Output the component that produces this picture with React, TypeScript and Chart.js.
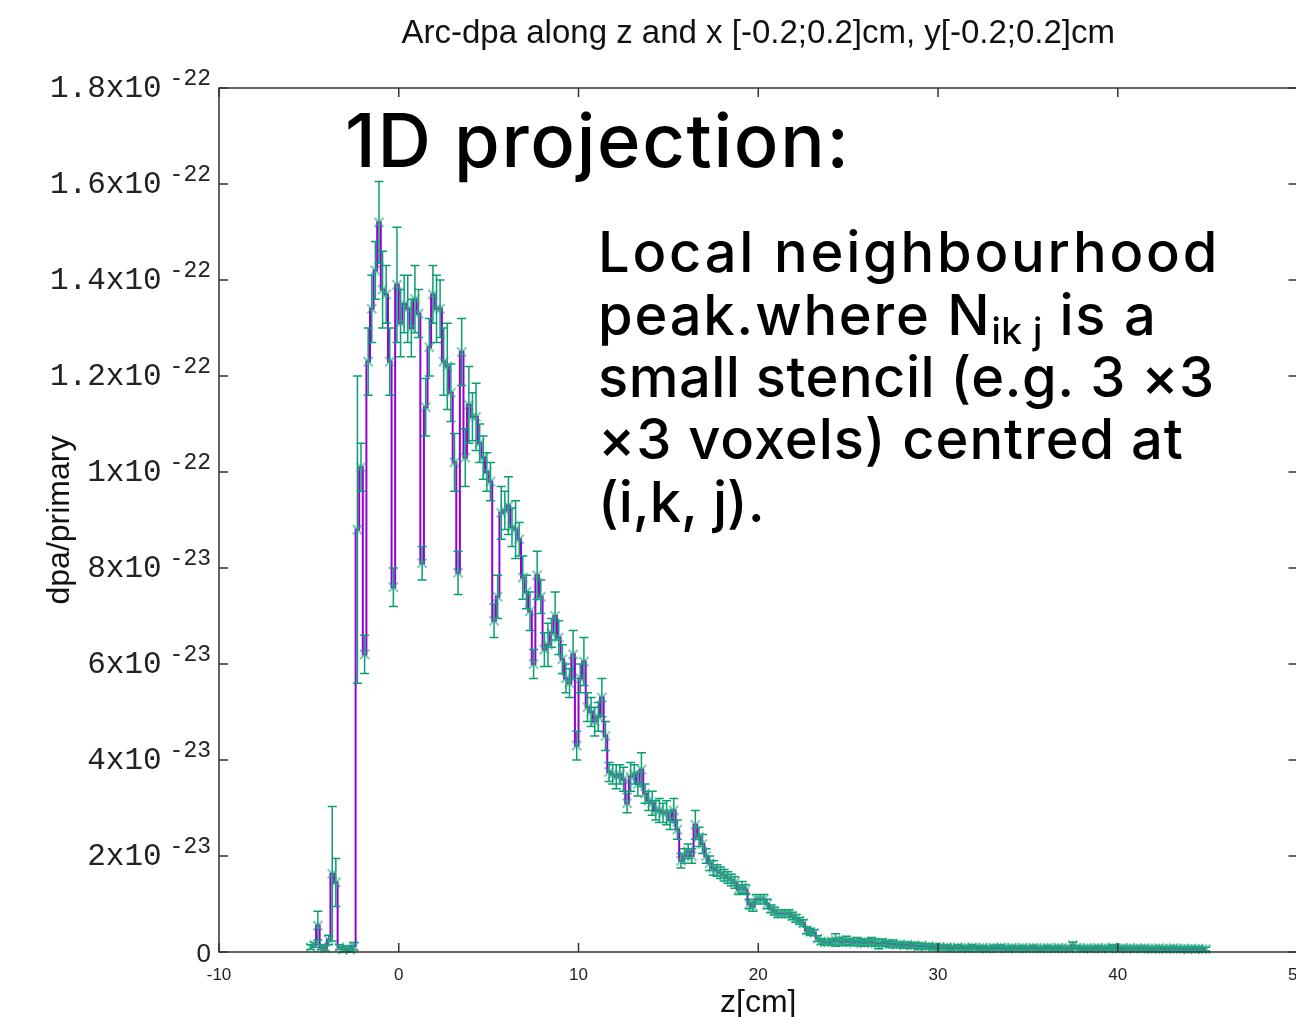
import { useEffect, useRef } from 'react';
import { Chart, registerables } from 'chart.js';

Chart.register(...registerables);

// ---- text ----
const TITLE = 'Arc-dpa along z and x [-0.2;0.2]cm, y[-0.2;0.2]cm';
const X_TITLE = 'z[cm]';
const Y_TITLE = 'dpa/primary';
const HEADING = '1D projection:';
// each line is a list of runs; "sub" runs are set as subscripts
const NOTE_LINES = [
  [{ t: 'Local neighbourhood' }],
  [{ t: 'peak.where N' }, { t: 'ik j', sub: true }, { t: ' is a' }],
  [{ t: 'small stencil (e.g. 3 \u00d73' }],
  [{ t: '\u00d73 voxels) centred at' }],
  [{ t: '(i,k, j).' }],
];
// tracking (px) applied to each note line
const NOTE_TRACKING = [2.8, 1.8, 0.5, 0.95, 0];

// ---- axes ----
const X_MIN = -10;
const X_MAX = 50;
const X_STEP = 10;
const Y_MIN = 0;
const Y_MAX = 18; // in units of 1e-23 dpa/primary
const Y_STEP = 2;
const Y_UNIT_EXP = -23;

// ---- histogram: 0.2 cm bins starting at z = -5 cm ----
const BIN_START = -5.0;
const BIN_WIDTH = 0.2;

// dpa per primary, units of 1e-23
const DPA = [
  0.10, 0.15, 0.55, 0.10, 0.08, 0.25, 1.63, 1.45, 0.10, 0.05, 0.08, 0.05, 0.12,
  8.8, 10.1, 6.2, 12.3, 13.4, 14.2, 15.2, 13.8, 13.7, 12.3, 7.6, 13.9,
  13.1, 13.5, 13.4, 13.0, 13.6, 13.3, 8.1, 11.35, 12.6, 13.7, 13.4, 13.4, 12.3, 12.2, 11.65, 10.2,
  7.9, 12.5, 10.3, 11.4, 11.15, 11.15, 10.6, 10.3, 10.0, 9.8,
  6.9, 7.4, 9.15, 9.2, 9.3, 8.85, 8.8, 8.6, 7.8, 7.5, 7.1, 6.0, 7.85, 7.4, 6.3, 6.4, 6.65,
  7.0, 6.55, 6.1, 5.7, 5.6, 6.2, 4.3, 5.7, 6.05, 5.1, 5.0, 4.8, 4.9, 5.3, 4.5, 3.75,
  3.7, 3.65, 3.7, 3.6, 3.1, 3.65, 3.7, 3.5, 3.8, 3.3,
  3.15, 3.1, 2.95, 2.95, 2.9, 2.9, 2.75, 2.95, 2.55, 1.9,
  2.0, 2.1, 2.0, 2.65, 2.4, 2.25, 2.0, 1.85, 1.75, 1.7,
  1.65, 1.6, 1.55, 1.5, 1.45, 1.3, 1.35, 1.3, 1.0, 0.95,
  1.1, 1.1, 1.1, 1.0, 0.9, 0.85, 0.8, 0.8, 0.8, 0.8,
  0.75, 0.7, 0.65, 0.6, 0.45, 0.42, 0.4, 0.28, 0.22, 0.2,
  0.2, 0.22,
  0.25, 0.22, 0.2, 0.24, 0.21, 0.19, 0.22, 0.2, 0.18, 0.2,
  0.22, 0.19, 0.17, 0.2, 0.18, 0.16, 0.17, 0.15, 0.16, 0.14,
  0.15, 0.13, 0.14, 0.12, 0.13, 0.11, 0.12, 0.1, 0.11, 0.1,
  0.09, 0.1, 0.08, 0.09, 0.1, 0.08, 0.09, 0.08, 0.1, 0.09,
  0.08, 0.09, 0.07, 0.08, 0.09, 0.08, 0.1, 0.08, 0.07, 0.09,
  0.08, 0.08, 0.09, 0.07, 0.08, 0.09, 0.08, 0.07, 0.08, 0.09,
  0.08, 0.07, 0.09, 0.08, 0.08, 0.07, 0.14, 0.09, 0.08, 0.07,
  0.08, 0.07, 0.08, 0.09, 0.07, 0.08, 0.07, 0.1, 0.08, 0.07,
  0.08, 0.07, 0.08, 0.07, 0.08, 0.07, 0.08, 0.07, 0.06, 0.07,
  0.08, 0.07, 0.06, 0.07, 0.08, 0.07, 0.06, 0.07, 0.06, 0.07,
  0.06, 0.07, 0.06, 0.06,
];

// statistical uncertainty of each bin, units of 1e-23
const DPA_ERR = [
  0.05, 0.05, 0.3, 0.05, 0.05, 0.1, 1.4, 0.5, 0.05, 0.05, 0.05, 0.05, 0.08,
  3.2, 0.5, 0.4, 0.7, 0.7, 0.6, 0.85, 0.8, 0.6, 0.7, 0.4, 1.2,
  0.7, 0.6, 0.7, 0.6, 0.7, 0.5, 0.35, 0.6, 0.6, 0.6, 0.7, 0.6, 0.7, 0.9, 0.6, 0.6,
  0.45, 0.7, 0.6, 0.8, 0.5, 0.7, 0.4, 0.45, 0.4, 0.4,
  0.35, 0.45, 0.55, 0.4, 0.6, 0.4, 0.6, 0.35, 0.45, 0.35,
  0.4, 0.3, 0.5, 0.35, 0.35, 0.45, 0.3, 0.5, 0.35, 0.3,
  0.3, 0.3, 0.5, 0.3, 0.3, 0.5, 0.3, 0.3, 0.3, 0.3,
  0.4, 0.3, 0.2,
  0.2, 0.25, 0.2, 0.25, 0.2, 0.3, 0.2, 0.25, 0.35, 0.2,
  0.2, 0.25, 0.2, 0.25, 0.2, 0.25, 0.2, 0.25, 0.2, 0.15,
  0.15, 0.15, 0.15, 0.3, 0.2, 0.2, 0.15, 0.15, 0.15, 0.12,
  0.12, 0.12, 0.12, 0.12, 0.12, 0.1, 0.12, 0.1, 0.1, 0.1,
  0.1, 0.1, 0.1, 0.1, 0.08, 0.08, 0.08, 0.08, 0.08, 0.08,
  0.08, 0.08, 0.07, 0.07, 0.07, 0.07, 0.06, 0.06, 0.06, 0.06,
  0.06, 0.06,
  0.13, 0.08, 0.07, 0.09, 0.07, 0.06, 0.08, 0.07, 0.06, 0.07,
  0.08, 0.07, 0.1, 0.07, 0.06, 0.06, 0.08, 0.06, 0.05, 0.06,
  0.06, 0.05, 0.06, 0.07, 0.05, 0.05, 0.05, 0.05, 0.05, 0.04,
  0.04, 0.05, 0.04, 0.04, 0.05, 0.04, 0.04, 0.04, 0.05, 0.04,
  0.04, 0.04, 0.04, 0.04, 0.05, 0.04, 0.05, 0.04, 0.04, 0.04,
  0.04, 0.04, 0.04, 0.04, 0.04, 0.05, 0.04, 0.04, 0.04, 0.04,
  0.04, 0.04, 0.04, 0.04, 0.04, 0.04, 0.07, 0.04, 0.04, 0.04,
  0.04, 0.04, 0.04, 0.04, 0.04, 0.04, 0.04, 0.05, 0.04, 0.04,
  0.04, 0.04, 0.04, 0.04, 0.04, 0.04, 0.04, 0.04, 0.04, 0.04,
  0.04, 0.04, 0.04, 0.04, 0.04, 0.04, 0.04, 0.04, 0.04, 0.04,
  0.04, 0.04, 0.04, 0.04,
];

const Z = DPA.map((_, i) => BIN_START + (i + 0.5) * BIN_WIDTH);

// ---- styling ----
const CANVAS_W = 1320;
const CANVAS_H = 1017;
const LINE_COLOR = '#9400d3';
const ERR_COLOR = '#0a9e74';
const MARK_COLOR = 'rgba(40, 170, 130, 0.6)';
const FRAME_COLOR = '#333333';
const LINE_INDEX = 1; // histogram line is drawn first, markers last

function splitTick(v: number): { m: string; e: number | null } {
  if (v === 0) return { m: '0', e: null };
  let m = v;
  let e = Y_UNIT_EXP;
  while (m >= 10) {
    m /= 10;
    e += 1;
  }
  return { m: String(Math.round(m * 100) / 100), e };
}

const errorBarsPlugin = {
  id: 'errorBars',
  afterDatasetDraw(chart: any, args: any) {
    if (args.index !== LINE_INDEX) return;
    const { ctx } = chart;
    const xs = chart.scales.x;
    const ys = chart.scales.y;
    const cap = 4.5;
    ctx.save();
    ctx.strokeStyle = ERR_COLOR;
    ctx.lineWidth = 1.5;
    ctx.beginPath();
    DPA.forEach((v, i) => {
      const px = xs.getPixelForValue(Z[i]);
      const t = ys.getPixelForValue(v + DPA_ERR[i]);
      const b = ys.getPixelForValue(v - DPA_ERR[i]);
      ctx.moveTo(px, t);
      ctx.lineTo(px, b);
      ctx.moveTo(px - cap, t);
      ctx.lineTo(px + cap, t);
      ctx.moveTo(px - cap, b);
      ctx.lineTo(px + cap, b);
    });
    ctx.stroke();
    ctx.restore();
  },
};

function drawSpaced(ctx: any, text: string, x: number, y: number, spacing: number) {
  ctx.letterSpacing = spacing + 'px';
  ctx.fillText(text, x, y);
  const w = ctx.measureText(text).width;
  ctx.letterSpacing = '0px';
  return w;
}

const framePlugin = {
  id: 'gnuFrame',
  afterDatasetsDraw(chart: any) {
    const { ctx, chartArea } = chart;
    const { left, right, top, bottom } = chartArea;
    const xs = chart.scales.x;
    const ys = chart.scales.y;
    const tl = 9;
    ctx.save();
    ctx.strokeStyle = FRAME_COLOR;
    ctx.lineWidth = 1.5;
    ctx.strokeRect(left, top, right - left, bottom - top);
    ctx.beginPath();
    ys.ticks.forEach((t: any) => {
      const py = ys.getPixelForValue(t.value);
      ctx.moveTo(left, py);
      ctx.lineTo(left + tl, py);
      ctx.moveTo(right - tl, py);
      ctx.lineTo(right, py);
    });
    xs.ticks.forEach((t: any) => {
      const px = xs.getPixelForValue(t.value);
      ctx.moveTo(px, bottom);
      ctx.lineTo(px, bottom - tl);
      ctx.moveTo(px, top);
      ctx.lineTo(px, top + tl);
    });
    ctx.stroke();
    ctx.restore();
  },
  afterDraw(chart: any) {
    const { ctx, chartArea } = chart;
    const ys = chart.scales.y;
    const cx = (chartArea.left + chartArea.right) / 2;
    ctx.save();

    // y tick labels with raised exponents
    const rightEdge = chartArea.left - 8;
    ys.ticks.forEach((t: any) => {
      const py = ys.getPixelForValue(t.value);
      const { m, e } = splitTick(t.value);
      ctx.fillStyle = '#222';
      ctx.textAlign = 'right';
      ctx.textBaseline = 'alphabetic';
      if (e === null) {
        ctx.font = '26px "Liberation Sans", Arial, sans-serif';
        ctx.fillText(m, rightEdge, py + 10);
        return;
      }
      ctx.font = '23px "Liberation Mono", monospace';
      const es = String(e);
      const ew = ctx.measureText(es).width;
      ctx.fillText(es, rightEdge, py - 3);
      ctx.font = '31px "Liberation Mono", monospace';
      ctx.fillText(m + 'x10', rightEdge - ew - 8, py + 9);
    });

    // titles
    ctx.fillStyle = '#111';
    ctx.textAlign = 'center';
    ctx.textBaseline = 'middle';
    ctx.font = '33px "Liberation Sans", Arial, sans-serif';
    ctx.fillText(TITLE, cx, 34);
    ctx.font = '32px "Liberation Sans", Arial, sans-serif';
    ctx.fillText(X_TITLE, cx, 1003);
    ctx.save();
    ctx.translate(60, (chartArea.top + chartArea.bottom) / 2);
    ctx.rotate(-Math.PI / 2);
    ctx.fillText(Y_TITLE, 0, 0);
    ctx.restore();

    // annotation text
    ctx.fillStyle = '#000';
    ctx.textAlign = 'left';
    ctx.textBaseline = 'alphabetic';
    ctx.font = '500 74px Inter, sans-serif';
    drawSpaced(ctx, HEADING, 345, 167, 1.7);

    const noteFont = '500 56px Inter, sans-serif';
    const subFont = '500 37px Inter, sans-serif';
    const baselines = [272, 335, 397, 459, 522];
    NOTE_LINES.forEach((runs, li) => {
      let x = 598;
      const by = baselines[li];
      runs.forEach((r: any) => {
        ctx.font = r.sub ? subFont : noteFont;
        x += drawSpaced(ctx, r.t, x, r.sub ? by + 9 : by, r.sub ? 0.5 : NOTE_TRACKING[li]);
      });
    });
    ctx.restore();
  },
};

export default function App() {
  const canvasRef = useRef<HTMLCanvasElement | null>(null);

  useEffect(() => {
    const canvas = canvasRef.current;
    if (!canvas) return;
    const points = DPA.map((v, i) => ({ x: Z[i], y: v }));
    const chart = new Chart(canvas, {
      type: 'line',
      data: {
        datasets: [
          {
            label: 'dpa',
            data: points,
            showLine: false,
            pointStyle: 'crossRot',
            pointRadius: 6.5,
            pointBorderWidth: 2,
            pointBorderColor: MARK_COLOR,
            pointBackgroundColor: MARK_COLOR,
            clip: false,
            order: 1,
          } as any,
          {
            label: 'histogram',
            data: points,
            borderColor: LINE_COLOR,
            borderWidth: 2,
            pointRadius: 0,
            stepped: 'middle',
            fill: false,
            order: 2,
          } as any,
        ],
      },
      options: {
        animation: false,
        responsive: false,
        maintainAspectRatio: false,
        events: [],
        layout: { padding: { left: 0, top: 88, right: CANVAS_W - 1299, bottom: 0 } },
        plugins: {
          legend: { display: false },
          tooltip: { enabled: false },
          title: { display: false },
        },
        scales: {
          x: {
            type: 'linear',
            min: X_MIN,
            max: X_MAX,
            ticks: {
              stepSize: X_STEP,
              color: '#222',
              padding: 13,
              maxRotation: 0,
              autoSkip: false,
              font: { family: '"Liberation Sans", Arial, sans-serif', size: 17 },
            },
            grid: { display: false, drawTicks: false },
            border: { display: false },
            afterFit: (s: any) => {
              s.height = CANVAS_H - 952;
            },
          },
          y: {
            type: 'linear',
            min: Y_MIN,
            max: Y_MAX,
            ticks: { stepSize: Y_STEP, display: false },
            grid: { display: false, drawTicks: false },
            border: { display: false },
            afterFit: (s: any) => {
              s.width = 219;
            },
          },
        },
      } as any,
      plugins: [errorBarsPlugin, framePlugin],
    });
    return () => chart.destroy();
  }, []);

  return (
    <div
      style={{
        position: 'fixed',
        left: 0,
        top: 0,
        width: '100vw',
        height: '100vh',
        overflow: 'hidden',
        background: '#fff',
      }}
    >
      <canvas
        ref={canvasRef}
        width={CANVAS_W}
        height={CANVAS_H}
        style={{ position: 'absolute', left: 0, top: 0 }}
      />
    </div>
  );
}
